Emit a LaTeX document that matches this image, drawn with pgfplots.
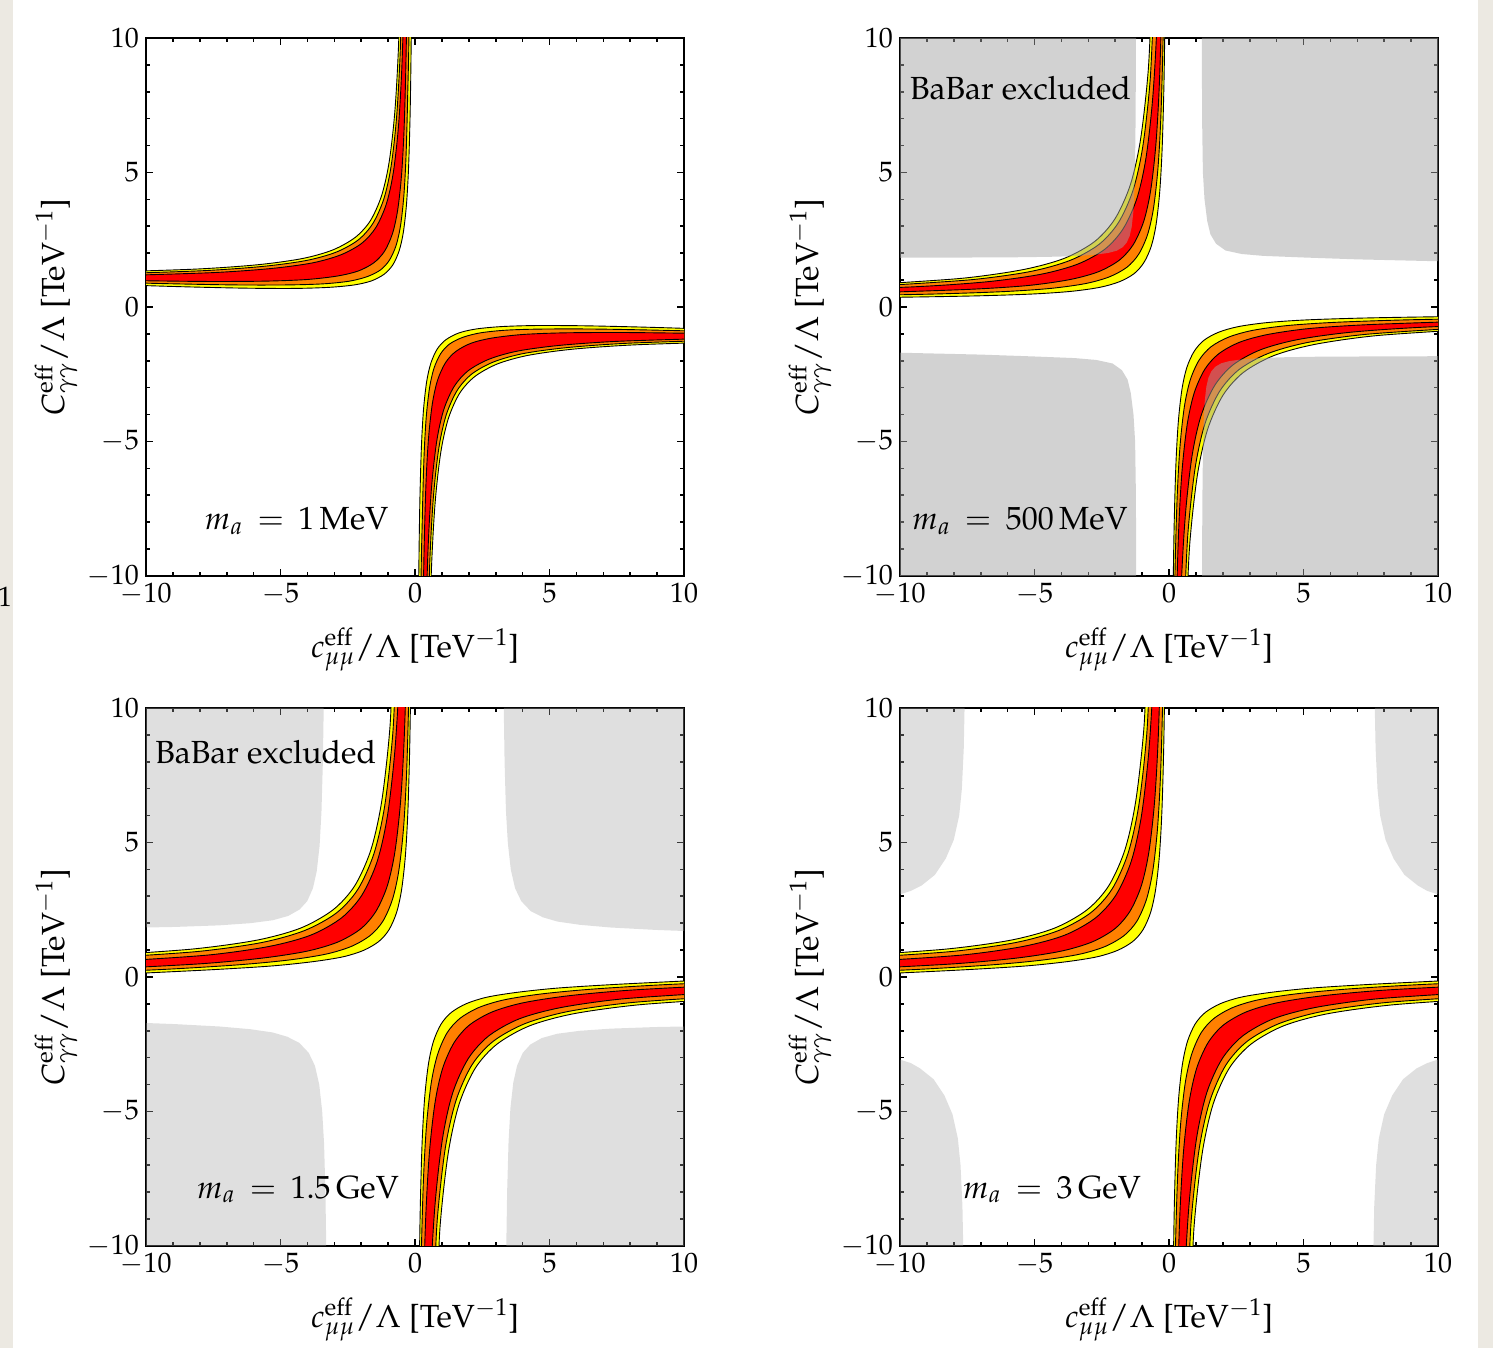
\documentclass[border=0pt]{standalone}
\usepackage[T1]{fontenc}
\usepackage{mathpazo}
\usepackage{pgfplots}
\usepackage{pgfplotstable}
\pgfplotsset{compat=1.18}

\definecolor{byel}{RGB}{255,255,0}
\definecolor{bora}{RGB}{255,128,0}
\definecolor{bred}{RGB}{255,0,0}
\definecolor{exgray}{RGB}{165,165,165}
\definecolor{beige}{RGB}{236,233,226}

% upper-left branch: each band as outer boundary, then inner boundary back
% m_a = 1 MeV
\pgfplotstableread{
x y
-11.45 1.30
-8.126 1.41
-5.854 1.57
-4.193 1.80
-3.057 2.12
-2.218 2.59
-1.658 3.21
-1.239 4.15
-0.959 5.40
-0.749 7.27
-0.610 9.77
-0.505 13.51
-0.109 14.37
-0.1385 10.15
-0.178 7.34
-0.237 5.23
-0.316 3.82
-0.434 2.77
-0.592 2.08
-0.828 1.56
-1.144 1.22
-1.617 0.97
-2.257 0.82
-3.193 0.73
-4.474 0.69
-6.347 0.70
-8.909 0.76
-12.65 0.88
}\tAY
\pgfplotstableread{
x y
-11.08 1.24
-7.856 1.35
-5.647 1.51
-4.033 1.73
-2.928 2.04
-2.113 2.49
-1.569 3.10
-1.161 4.01
-0.890 5.22
-0.686 7.04
-0.550 9.47
-0.448 13.11
-0.233 10.69
-0.274 7.76
-0.335 5.57
-0.417 4.10
-0.540 3.01
-0.705 2.28
-0.951 1.74
-1.279 1.38
-1.772 1.13
-2.439 0.96
-3.413 0.86
-4.747 0.82
-6.696 0.82
-9.364 0.87
-13.26 0.97
}\tAO
\pgfplotstableread{
x y
-10.54 1.18
-7.459 1.28
-5.350 1.43
-3.810 1.64
-2.755 1.94
-1.977 2.37
-1.458 2.95
-1.068 3.82
-0.809 4.98
-0.614 6.72
-0.484 9.03
-0.387 12.51
-0.322 17.14
-0.286 12.64
-0.335 9.18
-0.407 6.59
-0.504 4.86
-0.649 3.57
-0.843 2.71
-1.134 2.07
-1.521 1.65
-2.103 1.34
-2.890 1.15
-4.040 1.02
-5.615 0.96
-7.915 0.95
-11.07 0.99
}\tAR

% m_a = 500 MeV
\pgfplotstableread{
x y
-10.73 0.86
-7.661 1.07
-5.421 1.39
-3.888 1.81
-2.756 2.44
-2.001 3.29
-1.435 4.55
-1.058 6.23
-0.775 8.76
-0.587 12.13
-0.108 16.39
-0.142 11.54
-0.187 8.31
-0.255 5.89
-0.346 4.27
-0.481 3.06
-0.662 2.25
-0.934 1.65
-1.296 1.24
-1.839 0.94
-2.574 0.73
-3.648 0.58
-5.119 0.48
-7.267 0.41
-10.21 0.36
-14.51 0.32
}\tBY
\pgfplotstableread{
x y
-10.22 0.82
-7.288 1.02
-5.147 1.32
-3.681 1.73
-2.599 2.33
-1.878 3.14
-1.337 4.34
-0.977 5.95
-0.706 8.37
-0.526 11.59
-0.165 13.94
-0.219 10.03
-0.3015 7.10
-0.411 5.15
-0.575 3.68
-0.794 2.70
-1.122 1.97
-1.560 1.48
-2.216 1.12
-3.105 0.87
-4.404 0.69
-6.182 0.57
-8.780 0.48
-12.34 0.41
}\tBO
\pgfplotstableread{
x y
-13.47 0.62
-9.474 0.75
-6.741 0.94
-4.745 1.22
-3.378 1.60
-2.369 2.16
-1.697 2.92
-1.192 4.04
-0.856 5.54
-0.604 7.79
-0.435 10.80
-0.309 15.30
-0.192 16.52
-0.257 11.88
-0.354 8.41
-0.484 6.09
-0.679 4.35
-0.938 3.19
-1.328 2.32
-1.847 1.74
-2.625 1.31
-3.680 1.02
-5.220 0.80
-7.329 0.66
-10.41 0.55
}\tBR

% m_a = 1.5 GeV and 3 GeV
\pgfplotstableread{
x y
-11.52 0.81
-8.261 1.04
-5.878 1.37
-4.248 1.82
-3.044 2.50
-2.241 3.39
-1.639 4.73
-1.238 6.53
-0.937 9.21
-0.737 12.80
-0.110 17.12
-0.146 12.08
-0.193 8.71
-0.263 6.19
-0.358 4.50
-0.499 3.24
-0.687 2.39
-0.970 1.75
-1.346 1.32
-1.911 0.99
-2.676 0.75
-3.794 0.57
-5.325 0.41
-7.561 0.27
-10.62 0.12
}\tCY
\pgfplotstableread{
x y
-11.28 0.73
-8.058 0.95
-5.706 1.28
-4.097 1.73
-2.908 2.39
-2.116 3.27
-1.522 4.60
-1.125 6.37
-0.828 9.02
-0.630 12.56
-0.166 14.90
-0.225 10.72
-0.312 7.59
-0.429 5.50
-0.605 3.93
-0.839 2.88
-1.190 2.08
-1.657 1.55
-2.359 1.14
-3.310 0.85
-4.698 0.63
-6.599 0.45
-9.377 0.28
-13.18 0.12
}\tCO
\pgfplotstableread{
x y
-10.73 0.61
-7.654 0.82
-5.404 1.14
-3.865 1.56
-2.728 2.20
-1.970 3.05
-1.401 4.31
-1.022 6.01
-0.738 8.54
-0.549 11.93
-0.407 17.00
-0.217 17.91
-0.287 12.86
-0.393 9.08
-0.534 6.55
-0.746 4.66
-1.029 3.39
-1.453 2.44
-2.018 1.79
-2.866 1.30
-4.014 0.96
-5.691 0.70
-7.987 0.49
-11.34 0.31
}\tCR

\pgfplotsset{
  panel/.style={
    width=269pt, height=269pt, scale only axis,
    xmin=-10, xmax=10, ymin=-10, ymax=10,
    xtick={-10,-5,0,5,10}, ytick={-10,-5,0,5,10},
    minor tick num=4,
    tick align=inside,
    major tick length=3.6pt, minor tick length=1.9pt,
    axis line style={line width=0.9pt},
    every tick/.style={black, line width=0.8pt},
    tick label style={font=\fontsize{14}{17}\selectfont},
    label style={font=\fontsize{16}{19}\selectfont},
    xlabel={$c^{\mathrm{eff}}_{\mu\mu}/\Lambda$ [TeV$^{-1}$]},
    ylabel={$C^{\mathrm{eff}}_{\gamma\gamma}/\Lambda$ [TeV$^{-1}$]},
    xlabel style={at={(axis description cs:0.5,-0.1506)}, anchor=base},
    ylabel style={at={(axis description cs:-0.1524,0.5)}, anchor=base},
  },
  table/flip/.style={x expr=-\thisrow{x}, y expr=-\thisrow{y}},
  band/.style={draw=black, line width=0.45pt, mark=none, smooth, tension=0.5, fill=#1},
  exA/.style={draw=none, fill=exgray, fill opacity=0.49},
  exB/.style={draw=none, fill=exgray, fill opacity=0.345},
}
\tikzset{note/.style={font=\fontsize{16}{19}\selectfont, anchor=base}}

% #1-#3 yellow, orange, red band tables
\newcommand{\bands}[3]{%
  \addplot[band=byel] table {#1};
  \addplot[band=bora] table {#2};
  \addplot[band=bred] table {#3};
  \addplot[band=byel] table[flip] {#1};
  \addplot[band=bora] table[flip] {#2};
  \addplot[band=bred] table[flip] {#3};
}

\begin{document}
\begin{tikzpicture}
\fill[white] (0,0) rectangle (746.5pt,674pt);
\fill[beige] (0,0) rectangle (6.5pt,674pt);
\fill[beige] (739pt,0) rectangle (746.5pt,674pt);
\path[use as bounding box] (0,0) rectangle (746.5pt,674pt);
\node[font=\fontsize{14}{17}\selectfont] at (2.5pt,375.5pt) {1};

% m_a = 1 MeV
\begin{axis}[panel, at={(73pt,386pt)}, anchor=south west]
\bands{\tAY}{\tAO}{\tAR}
\node[note] at (axis cs:-4.4,-8.29) {$m_a\,=\,1\,$MeV};
\end{axis}

% m_a = 500 MeV
\begin{axis}[panel, at={(450pt,386pt)}, anchor=south west]
\bands{\tBY}{\tBO}{\tBR}
\addplot[exA] coordinates {(-10,10) (-1.227,10) (-1.233,8.5) (-1.247,6.49) (-1.266,5.15) (-1.294,4.15) (-1.331,3.48) (-1.388,2.97) (-1.463,2.64) (-1.575,2.39) (-1.725,2.22) (-1.95,2.09) (-2.255,2.01) (-2.70,1.95) (-3.31,1.90) (-4.2,1.87) (-5.42,1.85) (-7.2,1.84) (-10,1.83)};
\addplot[exA] coordinates {(10,-10) (1.227,-10) (1.233,-8.5) (1.247,-6.49) (1.266,-5.15) (1.294,-4.15) (1.331,-3.48) (1.388,-2.97) (1.463,-2.64) (1.575,-2.39) (1.725,-2.22) (1.95,-2.09) (2.255,-2.01) (2.70,-1.95) (3.31,-1.90) (4.2,-1.87) (5.42,-1.85) (7.2,-1.84) (10,-1.83)};
\addplot[exA] coordinates {(10,10) (1.22,10) (1.23,7) (1.26,5) (1.32,4) (1.42,3.2) (1.54,2.7) (1.75,2.35) (2.1,2.1) (2.7,1.97) (3.5,1.9) (5,1.84) (7,1.77) (10,1.70)};
\addplot[exA] coordinates {(-10,-10) (-1.22,-10) (-1.23,-7) (-1.26,-5) (-1.32,-4) (-1.42,-3.2) (-1.54,-2.7) (-1.75,-2.35) (-2.1,-2.1) (-2.7,-1.97) (-3.5,-1.9) (-5,-1.84) (-7,-1.77) (-10,-1.70)};
\node[note] at (axis cs:-5.52,7.71) {BaBar excluded};
\node[note] at (axis cs:-5.54,-8.29) {$m_a\,=\,500\,$MeV};
\end{axis}

% m_a = 1.5 GeV
\begin{axis}[panel, at={(73pt,51pt)}, anchor=south west]
\addplot[exB] coordinates {(-10,10) (-3.394,10) (-3.424,8.03) (-3.477,6.14) (-3.547,4.87) (-3.653,3.93) (-3.794,3.30) (-4.006,2.82) (-4.289,2.51) (-4.713,2.27) (-5.287,2.11) (-6.126,2.00) (-7.274,1.92) (-8.95,1.86) (-10,1.84)};
\addplot[exB] coordinates {(10,-10) (3.394,-10) (3.424,-8.03) (3.477,-6.14) (3.547,-4.87) (3.653,-3.93) (3.794,-3.30) (4.006,-2.82) (4.289,-2.51) (4.713,-2.27) (5.287,-2.11) (6.126,-2.00) (7.274,-1.92) (8.95,-1.86) (10,-1.84)};
\addplot[exB] coordinates {(10,10) (3.30,10) (3.33,8) (3.38,6.2) (3.45,5) (3.56,4) (3.72,3.3) (3.95,2.82) (4.3,2.45) (4.75,2.22) (5.3,2.06) (6.13,1.94) (7.27,1.84) (8.95,1.75) (10,1.71)};
\addplot[exB] coordinates {(-10,-10) (-3.30,-10) (-3.33,-8) (-3.38,-6.2) (-3.45,-5) (-3.56,-4) (-3.72,-3.3) (-3.95,-2.82) (-4.3,-2.45) (-4.75,-2.22) (-5.3,-2.06) (-6.13,-1.94) (-7.27,-1.84) (-8.95,-1.75) (-10,-1.71)};
\bands{\tCY}{\tCO}{\tCR}
\node[note] at (axis cs:-5.55,7.92) {BaBar excluded};
\node[note] at (axis cs:-4.35,-8.22) {$m_a\,=\,1.5\,$GeV};
\end{axis}

% m_a = 3 GeV
\begin{axis}[panel, at={(450pt,51pt)}, anchor=south west]
\addplot[exB] coordinates {(-10,10) (-7.6,10) (-7.63,8.5) (-7.7,7) (-7.8,6) (-8.0,5.1) (-8.3,4.4) (-8.7,3.8) (-9.2,3.4) (-9.6,3.2) (-10,3.07)};
\addplot[exB] coordinates {(10,10) (7.65,10) (7.68,8.5) (7.75,7) (7.85,6) (8.05,5.1) (8.35,4.4) (8.75,3.8) (9.25,3.4) (9.6,3.2) (10,3.07)};
\addplot[exB] coordinates {(-10,-10) (-7.65,-10) (-7.68,-8.5) (-7.75,-7) (-7.85,-6) (-8.05,-5.1) (-8.35,-4.4) (-8.75,-3.8) (-9.25,-3.4) (-9.6,-3.2) (-10,-3.07)};
\addplot[exB] coordinates {(10,-10) (7.6,-10) (7.63,-8.5) (7.7,-7) (7.8,-6) (8.0,-5.1) (8.3,-4.4) (8.7,-3.8) (9.2,-3.4) (9.6,-3.2) (10,-3.07)};
\bands{\tCY}{\tCO}{\tCR}
\node[note] at (axis cs:-4.35,-8.22) {$m_a\,=\,3\,$GeV};
\end{axis}
\end{tikzpicture}
\end{document}
